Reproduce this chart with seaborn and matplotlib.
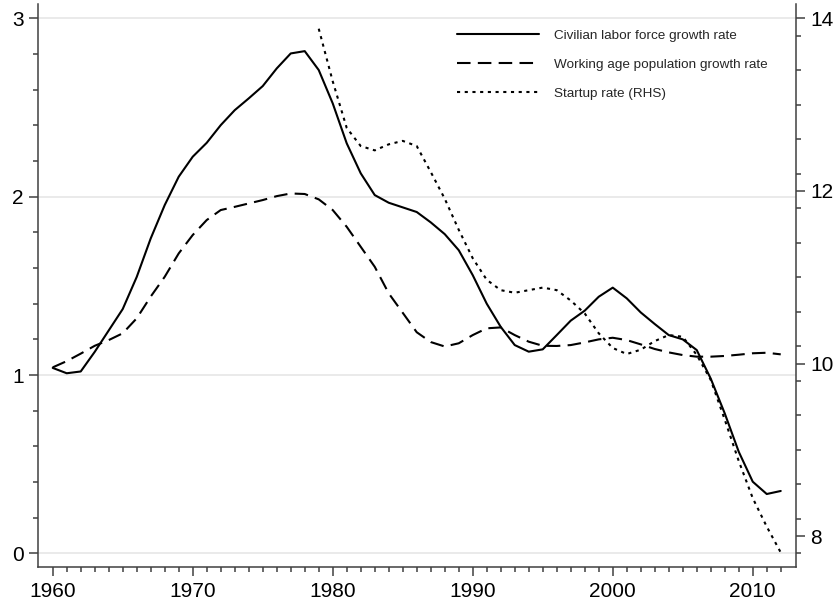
import numpy as np
import pandas as pd
import matplotlib
matplotlib.use("Agg")
import matplotlib.pyplot as plt
import seaborn as sns

# Annual series, 1960-2012
years = list(range(1960, 2013))
labor_force_growth = [
    1.04, 1.01, 1.02, 1.13, 1.25, 1.37, 1.55, 1.766, 1.953, 2.112,
    2.224, 2.302, 2.401, 2.485, 2.551, 2.62, 2.719, 2.803, 2.816, 2.71,
    2.523, 2.299, 2.131, 2.009, 1.966, 1.94, 1.914, 1.856, 1.79, 1.70,
    1.56, 1.40, 1.27, 1.168, 1.131, 1.144, 1.224, 1.305, 1.361, 1.439,
    1.49, 1.43, 1.351, 1.286, 1.224, 1.20, 1.14, 0.98, 0.785, 0.57,
    0.402, 0.333, 0.35,
]
working_age_growth = [
    1.043, 1.078, 1.12, 1.164, 1.196, 1.234, 1.318, 1.44, 1.551, 1.682,
    1.785, 1.869, 1.925, 1.943, 1.962, 1.981, 2.003, 2.018, 2.015, 1.985,
    1.925, 1.831, 1.719, 1.607, 1.458, 1.349, 1.24, 1.185, 1.16, 1.178,
    1.224, 1.262, 1.267, 1.224, 1.187, 1.164, 1.163, 1.168, 1.183, 1.20,
    1.209, 1.196, 1.172, 1.146, 1.127, 1.112, 1.103, 1.103, 1.107, 1.114,
    1.122, 1.125, 1.116,
]
# Startup rate, 1979-2012 (right-hand scale)
startup_years = list(range(1979, 2013))
startup_rate = [
    13.88, 13.27, 12.73, 12.52, 12.47, 12.54, 12.58, 12.52, 12.22, 11.91,
    11.55, 11.22, 10.97, 10.85, 10.82, 10.85, 10.88, 10.85, 10.73, 10.58,
    10.35, 10.18, 10.11, 10.16, 10.26, 10.33, 10.31, 10.10, 9.81, 9.35,
    8.87, 8.44, 8.11, 7.81,
]
series_labels = [
    "Civilian labor force growth rate",
    "Working age population growth rate",
    "Startup rate (RHS)",
]
left_ticks = [0, 1, 2, 3]
right_ticks = [8, 10, 12, 14]
x_ticks = [1960, 1970, 1980, 1990, 2000, 2010]

growth = pd.DataFrame({"year": years,
                       "labor": labor_force_growth,
                       "working": working_age_growth})
startups = pd.DataFrame({"year": startup_years, "startup": startup_rate})

sns.set_theme(style="white")
plt.rcParams["font.family"] = ["Liberation Sans", "DejaVu Sans"]

axis_gray = "#404040"
fig = plt.figure(figsize=(8.39, 6.04), dpi=100)
ax = fig.add_axes([0.04565, 0.06126, 0.9031, 0.93294])
ax2 = ax.twinx()

lw = 1.5
sns.lineplot(data=growth, x="year", y="labor", ax=ax, color="black",
             lw=lw, label=series_labels[0], legend=False)
sns.lineplot(data=growth, x="year", y="working", ax=ax, color="black",
             lw=lw, linestyle=(0, (6.5, 3.5)), label=series_labels[1],
             legend=False)
sns.lineplot(data=startups, x="year", y="startup", ax=ax2, color="black",
             lw=lw, linestyle=(0, (1.5, 2.2)), label=series_labels[2],
             legend=False)

# Axis ranges
ax.set_xlim(1958.97, 2013.09)
ax.set_ylim(-0.0762, 3.083)
ax2.set_ylim(7.642, 14.172)

ax.set_xticks(x_ticks)
ax.set_xticks(list(range(1960, 2013)), minor=True)
ax.set_yticks(left_ticks)
ax.set_yticks(np.arange(0, 3.01, 0.2), minor=True)
ax2.set_yticks(right_ticks)
ax2.set_yticks(np.arange(7.8, 13.81, 0.4), minor=True)

ax.set_xlabel("")
ax.set_ylabel("")
ax2.set_ylabel("")

ax.grid(False)
ax.grid(axis="y", which="major", color="#e6e6e6", lw=1.2)
ax2.grid(False)
ax.set_axisbelow(True)

for a in (ax, ax2):
    a.tick_params(which="major", length=6.5, width=1.1, color=axis_gray,
                  labelsize=15, labelcolor="black", pad=4.0)
    a.tick_params(which="minor", length=3.6, width=1.1, color=axis_gray)
ax.tick_params(which="both", bottom=True, left=True, right=False, top=False)
ax2.tick_params(which="both", right=True, left=False, bottom=False, top=False)

for side, sp in ax.spines.items():
    sp.set_visible(side in ("left", "bottom"))
    sp.set_color(axis_gray)
    sp.set_linewidth(1.1)
for side, sp in ax2.spines.items():
    sp.set_visible(side == "right")
    sp.set_color(axis_gray)
    sp.set_linewidth(1.1)

h1, l1 = ax.get_legend_handles_labels()
h2, l2 = ax2.get_legend_handles_labels()
leg = ax2.legend(h1 + h2, l1 + l2, loc="upper left",
                 bbox_to_anchor=(0.5289, 0.985), frameon=True,
                 facecolor="white", edgecolor="none", framealpha=1,
                 fancybox=False, fontsize=9.7, handlelength=6.15,
                 handletextpad=1.1, labelspacing=1.22, borderpad=0.8)

fig.savefig("out.png", dpi=100)
